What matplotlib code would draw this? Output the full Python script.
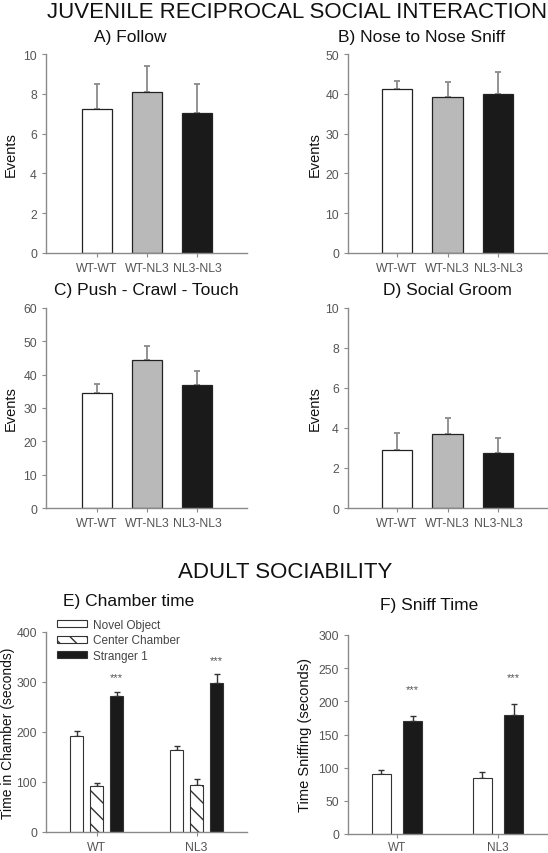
import matplotlib
matplotlib.use("Agg")
import matplotlib.pyplot as plt
import numpy as np

plt.rcParams['font.family'] = ['Liberation Sans', 'DejaVu Sans']

groups = ['WT-WT', 'WT-NL3', 'NL3-NL3']
follow = [7.25, 8.1, 7.05]
follow_err = [1.25, 1.3, 1.45]
nose = [41.3, 39.1, 40.0]
nose_err = [2.0, 3.9, 5.5]
push = [34.6, 44.3, 36.8]
push_err = [2.6, 4.3, 4.4]
groom = [2.9, 3.7, 2.75]
groom_err = [0.85, 0.8, 0.75]

adult = ['WT', 'NL3']
chamber_labels = ['Novel Object', 'Center Chamber', 'Stranger 1']
novel_time = [193, 165]
novel_err = [10, 8]
center_time = [93, 94]
center_err = [6, 13]
stranger_time = [272, 298]
stranger_err = [9, 18]
sniff_novel = [91, 85]
sniff_novel_err = [6, 8]
sniff_stranger = [170, 179]
sniff_stranger_err = [8, 17]

W, H = 548, 854
fig = plt.figure(figsize=(W / 100, H / 100), dpi=100)

tick_col = '#555555'
spine_col = '#8a8a8a'
fill3 = ['white', '#b9b9b9', '#1a1a1a']


def axes_px(l, t, r, b):
    return fig.add_axes([l / W, 1 - b / H, (r - l) / W, (b - t) / H])


def style(ax, ylab, lx):
    for s in ['top', 'right']:
        ax.spines[s].set_visible(False)
    for s in ['left', 'bottom']:
        ax.spines[s].set_color(spine_col)
        ax.spines[s].set_linewidth(1.0)
    ax.tick_params(colors=spine_col, labelcolor=tick_col, labelsize=8.8,
                   length=3, width=0.8, direction='out')
    ax.set_ylabel(ylab, fontsize=10.5, color='#111111')
    ax.yaxis.set_label_coords(lx, 0.5)


def juvenile(ax, vals, errs, ymax, step, title, tx, xlim, lx):
    x = np.arange(len(groups))
    ax.bar(x, vals, width=0.6, color=fill3, edgecolor='#222222', linewidth=0.9, zorder=2)
    ax.errorbar(x, vals, yerr=[np.zeros(3), errs], fmt='none', ecolor='#8a8a8a',
                elinewidth=1.3, capsize=2.5, capthick=1.3, zorder=1)
    ax.set_xlim(*xlim)
    ax.set_ylim(0, ymax)
    ax.set_yticks(np.arange(0, ymax + step / 2, step))
    ax.set_xticks(x)
    ax.set_xticklabels(groups)
    style(ax, 'Events', lx)
    ax.text(tx, 1.09, title, transform=ax.transAxes, ha='center', va='center',
            fontsize=12.5, color='#111111')


axA = axes_px(46, 55, 247, 254)
juvenile(axA, follow, follow_err, 10, 2, 'A) Follow', 0.42, (-1.02, 3.0), -0.14)
axB = axes_px(348, 55, 547, 254)
juvenile(axB, nose, nose_err, 50, 10, 'B) Nose to Nose Sniff', 0.37, (-0.97, 2.97), -0.13)
axC = axes_px(46, 309, 247, 509)
juvenile(axC, push, push_err, 60, 10, 'C) Push - Crawl - Touch', 0.5, (-1.02, 3.0), -0.14)
axD = axes_px(348, 309, 547, 509)
juvenile(axD, groom, groom_err, 10, 2, 'D) Social Groom', 0.5, (-0.97, 2.97), -0.13)

# E) chamber time
axE = axes_px(46, 633, 247, 833)
xg = np.arange(len(adult))
off, bw = 0.2, 0.13
hb = []
for k, (v, e, fc, hatch) in enumerate([(novel_time, novel_err, 'white', None),
                                        (center_time, center_err, 'white', '\\\\'),
                                        (stranger_time, stranger_err, '#1a1a1a', None)]):
    xx = xg + (k - 1) * off
    b = axE.bar(xx, v, width=bw, color=fc, edgecolor='#333333', linewidth=0.8,
                hatch=hatch, zorder=2, label=chamber_labels[k])
    axE.errorbar(xx, v, yerr=[np.zeros(2), e], fmt='none', ecolor='#333333',
                 elinewidth=1.0, capsize=2.5, capthick=1.0, zorder=1)
    hb.append(b)
for i in range(2):
    axE.text(xg[i] + off, stranger_time[i] + stranger_err[i] + 28, '***',
             ha='center', va='center', fontsize=8, color='#555555')
axE.set_xlim(-0.505, 1.505)
axE.set_ylim(0, 400)
axE.set_yticks(np.arange(0, 401, 100))
axE.set_xticks(xg)
axE.set_xticklabels(adult)
style(axE, 'Time in Chamber (seconds)', -0.155)
axE.yaxis.label.set_fontsize(10)
leg = axE.legend(handles=hb, loc='upper left', bbox_to_anchor=(0.03, 1.09),
                 frameon=False, fontsize=8.5, handlelength=2.6, handleheight=0.55,
                 labelspacing=0.3, handletextpad=0.5, borderaxespad=0)
for t in leg.get_texts():
    t.set_color('#444444')
axE.text(0.41, 1.155, 'E) Chamber time', transform=axE.transAxes, ha='center',
         va='center', fontsize=12.5, color='#111111')

# F) sniff time
axF = axes_px(348, 636, 547, 835)
off2, bw2 = 0.155, 0.19
for k, (v, e, fc) in enumerate([(sniff_novel, sniff_novel_err, 'white'),
                                (sniff_stranger, sniff_stranger_err, '#1a1a1a')]):
    xx = xg + (2 * k - 1) * off2
    axF.bar(xx, v, width=bw2, color=fc, edgecolor='#333333', linewidth=0.8, zorder=2)
    axF.errorbar(xx, v, yerr=[np.zeros(2), e], fmt='none', ecolor='#333333',
                 elinewidth=1.0, capsize=2.5, capthick=1.0, zorder=1)
for i in range(2):
    axF.text(xg[i] + off2, sniff_stranger[i] + sniff_stranger_err[i] + 40, '***',
             ha='center', va='center', fontsize=8, color='#555555')
axF.set_xlim(-0.485, 1.485)
axF.set_ylim(0, 300)
axF.set_yticks(np.arange(0, 301, 50))
axF.set_xticks(xg)
axF.set_xticklabels(adult)
style(axF, 'Time Sniffing (seconds)', -0.18)
axF.tick_params(axis='x', pad=2, labelsize=8.5)
axF.text(0.41, 1.155, 'F) Sniff Time', transform=axF.transAxes, ha='center',
         va='center', fontsize=12.5, color='#111111')

fig.text(47 / W, 1 - 12 / H, 'JUVENILE RECIPROCAL SOCIAL INTERACTION', ha='left',
         va='center', fontsize=16, color='#111111')
fig.text(285 / W, 1 - 573 / H, 'ADULT SOCIABILITY', ha='center', va='center',
         fontsize=16, color='#111111')

fig.savefig('out.png', dpi=100)
